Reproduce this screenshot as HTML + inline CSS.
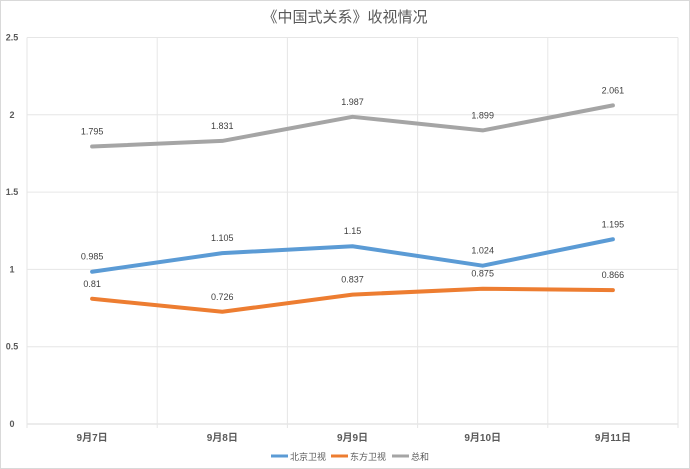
<!DOCTYPE html>
<html><head><meta charset="utf-8">
<style>
html,body{margin:0;padding:0;background:#fff;}
svg{display:block;font-family:"Liberation Sans","Noto Sans CJK SC",sans-serif;}
</style></head>
<body>
<svg id="chart" width="690" height="469" viewBox="0 0 690 469">
<rect x="0.5" y="0.5" width="689" height="468" fill="#fff" stroke="#d9d9d9"/>
<text x="345" y="22" text-anchor="middle" font-size="15" fill="#595959">《中国式关系》收视情况</text>
<g id="grid"></g><g id="axes"></g><g id="series"></g>
<g>
<line x1="271" y1="456" x2="288" y2="456" stroke="#5b9bd5" stroke-width="3"/>
<text x="290" y="460" font-size="9" fill="#595959">北京卫视</text>
<line x1="331" y1="456" x2="348" y2="456" stroke="#ed7d31" stroke-width="3"/>
<text x="350" y="460" font-size="9" fill="#595959">东方卫视</text>
<line x1="392" y1="456" x2="409" y2="456" stroke="#a5a5a5" stroke-width="3"/>
<text x="411" y="460" font-size="9" fill="#595959">总和</text>
</g>
</svg>
<script>
const categories=["9月7日","9月8日","9月9日","9月10日","9月11日"];
const beijing=[0.985,1.105,1.15,1.024,1.195];
const dongfang=[0.81,0.726,0.837,0.875,0.866];
const total=[1.795,1.831,1.987,1.899,2.061];
const yTicks=[0,0.5,1,1.5,2,2.5];
const NS="http://www.w3.org/2000/svg";
const L=27,R=678,T=37.5,B=424,yMax=2.5;
const bw=(R-L)/categories.length;
function x(i){return L+bw*(i+0.5);}
function y(v){return B-(B-T)*v/yMax;}
function mk(tag,attrs,parent,text){const e=document.createElementNS(NS,tag);for(const k in attrs)e.setAttribute(k,attrs[k]);if(text!==undefined)e.textContent=text;parent.appendChild(e);return e;}
const grid=document.getElementById('grid'),axes=document.getElementById('axes'),ser=document.getElementById('series');
yTicks.forEach(t=>{
 const ln=mk('line',{x1:L,x2:R,y1:y(t),y2:y(t),stroke:t===0?'#d9d9d9':'#e6e6e6','stroke-width':1},grid);
 
 
 const tx=mk('text',{x:12,y:y(t)+3,'text-anchor':'middle','font-size':9,'font-weight':'bold',fill:'#595959'},axes,String(t));
 
 
});
for(let i=0;i<=categories.length;i++){
 const ln=mk('line',{x1:L+bw*i,x2:L+bw*i,y1:T,y2:B+4,stroke:'#e6e6e6','stroke-width':1},grid);
 
 
}
categories.forEach((c,i)=>{
 const tx=mk('text',{x:x(i),y:441,'text-anchor':'middle','font-size':10,'font-weight':'bold',fill:'#595959'},axes,c);
 
 
});
[[total,'#a5a5a5','total'],[beijing,'#5b9bd5','beijing'],[dongfang,'#ed7d31','dongfang']].forEach(([d,col,name])=>{
 const p=mk('polyline',{points:d.map((v,i)=>x(i)+','+y(v)).join(' '),fill:'none',stroke:col,'stroke-width':4,'stroke-linejoin':'round','stroke-linecap':'round'},ser);
 
 
 d.forEach((v,i)=>{
  const t=mk('text',{x:x(i),y:y(v)-12,'text-anchor':'middle','font-size':9,fill:'#404040'},ser,String(v));
  
  
 });
});
</script>
</body></html>
